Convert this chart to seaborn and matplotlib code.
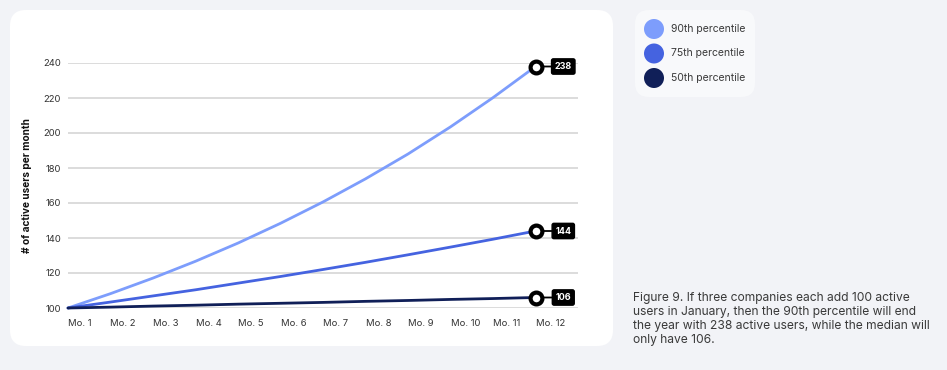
import pandas as pd
import matplotlib.pyplot as plt
import seaborn as sns
from matplotlib.patches import FancyBboxPatch, Circle

# data
months = ["Mo. 1", "Mo. 2", "Mo. 3", "Mo. 4", "Mo. 5", "Mo. 6",
          "Mo. 7", "Mo. 8", "Mo. 9", "Mo. 10", "Mo. 11", "Mo. 12"]
p90 = [100, 108.2, 117.1, 126.7, 137.1, 148.4, 160.6, 173.8, 188.0, 203.5, 220.2, 238]
p75 = [100, 103.4, 106.9, 110.4, 114.2, 118.0, 122.0, 126.1, 130.4, 134.8, 139.3, 144]
p50 = [100, 100.5, 101.1, 101.6, 102.2, 102.7, 103.2, 103.8, 104.3, 104.9, 105.4, 106]
series = ["90th percentile", "75th percentile", "50th percentile"]
colors = ["#7d9dfc", "#4563e0", "#101f58"]
y_ticks = [100, 120, 140, 160, 180, 200, 220, 240]

caption = ("Figure 9. If three companies each add 100 active\n"
           "users in January, then the 90th percentile will end\n"
           "the year with 238 active users, while the median will\n"
           "only have 106.")

rows = []
for name, vals in zip(series, [p90, p75, p50]):
    for i, v in enumerate(vals):
        rows.append({"month": i + 1, "users": v, "series": name})
df = pd.DataFrame(rows)

sns.set_theme(style="white")
plt.rcParams['font.family'] = ['Inter', 'DejaVu Sans']

W, H = 947, 370
fig = plt.figure(figsize=(W / 100, H / 100), dpi=100)
fig.patch.set_facecolor("#f2f3f7")

# background layer in pixel coordinates
bg = fig.add_axes([0, 0, 1, 1], zorder=0)
bg.set_xlim(0, W)
bg.set_ylim(H, 0)
bg.axis("off")
bg.add_patch(FancyBboxPatch((10, 10), 603, 336, boxstyle="round,pad=0,rounding_size=16",
                            fc="white", ec="none"))
bg.add_patch(FancyBboxPatch((635, 10), 120, 87, boxstyle="round,pad=0,rounding_size=14",
                            fc="#f8f9fb", ec="none"))
for k, (name, c) in enumerate(zip(series, colors)):
    cy = 29 + k * 24.5
    bg.add_patch(Circle((654, cy), 10, fc=c, ec="none"))
    bg.text(671, cy, name, fontsize=7.5, color="#3a3a3a", va="center", ha="left")
bg.text(633, 319, caption, fontsize=8.7, color="#3a3a3a", va="center", ha="left",
        linespacing=1.22)

ax = fig.add_axes([68 / W, 1 - 308 / H, (578 - 68) / W, (308 - 63) / H], zorder=1)
ax.patch.set_alpha(0)
sns.lineplot(data=df, x="month", y="users", hue="series", palette=colors,
             hue_order=series, legend=False, linewidth=2.0, ax=ax, clip_on=False,
             zorder=3)

ax.set_xlim(1, 13)
ax.set_ylim(100, 240)
ax.set_yticks(y_ticks)
ax.set_xticks(range(1, 13))
ax.set_xticklabels(months, ha="left")
ax.tick_params(axis="both", length=0, labelsize=6.8, labelcolor="#333333")
ax.tick_params(axis="x", pad=8)
ax.tick_params(axis="y", pad=5)
ax.grid(axis="y", color="#dcdcdc", linewidth=1.4)
ax.set_axisbelow(True)
for s in ax.spines.values():
    s.set_visible(False)
ax.set_xlabel("")
ax.set_ylabel("# of active users per month", fontsize=7.3, fontweight="bold",
              color="#111111", labelpad=8)

# end point markers and value tags
for vals in [p90, p75, p50]:
    v = vals[-1]
    ax.annotate(f"{v:.0f}", xy=(12, v), xytext=(20, 0), textcoords="offset points",
                fontsize=6.5, fontweight="bold", color="white", va="center", ha="center",
                bbox=dict(boxstyle="round,pad=0.35,rounding_size=0.2", fc="black", ec="black"),
                arrowprops=dict(arrowstyle="-", color="black", lw=1.3, shrinkA=0, shrinkB=0),
                annotation_clip=False, zorder=5)
    ax.plot(12, v, marker="o", ms=8.5, mfc="white", mec="black", mew=3,
            clip_on=False, zorder=6)

fig.savefig("out.png", dpi=100, facecolor=fig.get_facecolor())
